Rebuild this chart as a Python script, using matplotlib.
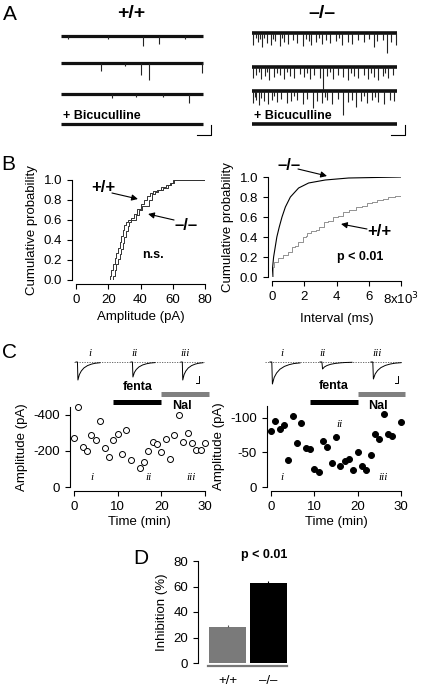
import numpy as np
import matplotlib
matplotlib.use('Agg')
import matplotlib.pyplot as plt

plt.rcParams['font.family'] = ['Liberation Sans', 'DejaVu Sans']
plt.rcParams['axes.unicode_minus'] = False
plt.rcParams['font.size'] = 9.5
plt.rcParams['axes.linewidth'] = 0.8
plt.rcParams['xtick.major.width'] = 0.8
plt.rcParams['ytick.major.width'] = 0.8
plt.rcParams['xtick.major.size'] = 3.5
plt.rcParams['ytick.major.size'] = 3.5

# ---------------- data ----------------
# A: sIPSC events per sweep (position as fraction of sweep, amplitude in px of trace)
wt_events = [
    [(0.05, 3), (0.33, 3), (0.58, 10), (0.69, 8), (0.87, 3)],
    [(0.28, 8), (0.45, 3), (0.56, 12), (0.62, 17), (0.99, 10)],
    [(0.36, 4), (0.53, 3), (0.72, 3), (0.90, 9)],
    [],
]
ko_events = [
    [(0.01, 12), (0.025, 5), (0.04, 9), (0.055, 6), (0.07, 14), (0.085, 5), (0.10, 10), (0.13, 12),
     (0.145, 6), (0.16, 8), (0.19, 13), (0.205, 5), (0.22, 9), (0.25, 11), (0.28, 7), (0.31, 10),
     (0.35, 13), (0.37, 6), (0.39, 8), (0.41, 12), (0.44, 9), (0.46, 5), (0.48, 11), (0.51, 7),
     (0.54, 10), (0.58, 8), (0.60, 5), (0.62, 12), (0.66, 9), (0.69, 11), (0.73, 7), (0.77, 9),
     (0.81, 6), (0.84, 14), (0.86, 8), (0.90, 7), (0.93, 20), (0.96, 9), (0.99, 12)],
    [(0.01, 11), (0.03, 8), (0.045, 5), (0.06, 12), (0.09, 9), (0.105, 5), (0.12, 13), (0.15, 10),
     (0.17, 6), (0.19, 8), (0.22, 12), (0.24, 5), (0.26, 9), (0.29, 11), (0.33, 7), (0.36, 10),
     (0.38, 6), (0.40, 12), (0.43, 8), (0.47, 11), (0.49, 22), (0.52, 9), (0.54, 5), (0.56, 12),
     (0.59, 8), (0.63, 10), (0.66, 13), (0.68, 6), (0.70, 9), (0.73, 11), (0.77, 8), (0.80, 12),
     (0.82, 6), (0.84, 10), (0.87, 13), (0.90, 9), (0.92, 6), (0.94, 11), (0.97, 8)],
    [(0.01, 12), (0.02, 6), (0.03, 9), (0.05, 14), (0.065, 7), (0.08, 10), (0.11, 13), (0.14, 9),
     (0.155, 5), (0.17, 11), (0.20, 8), (0.24, 12), (0.27, 10), (0.29, 5), (0.31, 9), (0.35, 13),
     (0.38, 8), (0.42, 17), (0.45, 10), (0.48, 12), (0.50, 6), (0.52, 9), (0.55, 13), (0.59, 8),
     (0.63, 24), (0.66, 11), (0.69, 9), (0.72, 16), (0.75, 10), (0.77, 5), (0.79, 12), (0.83, 9),
     (0.85, 6), (0.87, 11), (0.91, 13), (0.95, 9), (0.98, 10)],
    [],
]

# B: cumulative distributions
amp_wt_x = [19, 21, 22, 23, 24, 25, 26, 27, 28, 29, 30, 31, 32, 34, 36, 38, 40, 42, 44, 46, 48, 50, 53, 56, 58, 60, 80]
amp_wt_y = [0, 0.04, 0.1, 0.16, 0.22, 0.27, 0.32, 0.38, 0.44, 0.5, 0.55, 0.58, 0.6, 0.62, 0.66, 0.71, 0.76, 0.8,
            0.84, 0.87, 0.89, 0.9, 0.93, 0.95, 0.97, 1.0, 1.0]
amp_ko_x = [21.5, 23, 24, 25, 26, 27, 28, 29, 30, 31, 32, 33, 34, 35, 37, 39, 41, 43, 45, 47, 49, 51, 54, 57, 59, 61, 80]
amp_ko_y = [0, 0.04, 0.1, 0.16, 0.21, 0.26, 0.31, 0.37, 0.43, 0.49, 0.54, 0.58, 0.6, 0.6, 0.65, 0.7, 0.74, 0.74,
            0.8, 0.86, 0.88, 0.9, 0.92, 0.95, 0.97, 1.0, 1.0]
int_ko_x = [0, 40, 100, 200, 300, 450, 620, 830, 1140, 1650, 2270, 3300, 4750, 8000]
int_ko_y = [0, 0.1, 0.2, 0.3, 0.4, 0.5, 0.6, 0.7, 0.8, 0.89, 0.94, 0.97, 0.99, 1.0]
int_wt_x = [0, 40, 150, 400, 700, 1000, 1240, 1450, 1600, 1900, 2100, 2200, 2400, 2700, 2900, 3200, 3500, 3800,
            4100, 4400, 4800, 5200, 5600, 5900, 6200, 6500, 6900, 7200, 7600, 8000]
int_wt_y = [0, 0.1, 0.15, 0.19, 0.22, 0.25, 0.3, 0.31, 0.35, 0.4, 0.41, 0.44, 0.46, 0.47, 0.5, 0.55, 0.56, 0.6,
            0.61, 0.65, 0.67, 0.7, 0.71, 0.74, 0.75, 0.77, 0.78, 0.8, 0.81, 0.83]

# C: time courses
t_wt = [0, 1, 2, 3, 4, 5, 6, 7, 8, 9, 10, 11, 12, 13, 15, 16, 17, 18, 19, 20, 21, 22, 23, 24, 25, 26, 27, 28, 29, 30]
amp_wt = [-274, -445, -223, -202, -288, -259, -369, -214, -169, -259, -292, -184, -317, -148, -103, -137, -198,
          -250, -238, -195, -268, -155, -286, -400, -247, -297, -245, -207, -205, -245]
t_ko = [0, 1, 2, 3, 4, 5, 6, 7, 8, 9, 10, 11, 12, 13, 14, 15, 16, 17, 18, 19, 20, 21, 22, 23, 24, 25, 26, 27, 28, 30]
amp_ko = [-81, -95, -84, -89, -39, -102, -64, -93, -56, -55, -26, -22, -67, -58, -35, -72, -31, -37, -40, -24,
          -50, -31, -24, -46, -76, -69, -106, -76, -73, -94]
# averaged IPSC insets (relative peaks for i, ii, iii)
inset_wave_t = [0, 0.06, 0.08, 0.14, 0.22, 0.33, 0.48, 0.64, 0.8, 1.0]
inset_wave_v = [0, 0, -1, -0.7, -0.5, -0.33, -0.2, -0.12, -0.07, -0.04]
inset_peak_wt = [18, 15, 18]
inset_peak_ko = [22, 7, 17]

# D: inhibition
genotypes = ['+/+', '–/–']
inhibition = [28, 63]
inhibition_err = [2, 1.5]

W, H = 422, 687
fig = plt.figure(figsize=(W / 100, H / 100), dpi=100)


def px_axes(l, t, r, b):
    return fig.add_axes([l / W, 1 - b / H, (r - l) / W, (b - t) / H])


def style(ax, off=3):
    for s in ['top', 'right']:
        ax.spines[s].set_visible(False)
    ax.spines['left'].set_position(('outward', off))
    ax.spines['bottom'].set_position(('outward', off))


# ---------------- A ----------------
axA = px_axes(0, 0, W, 140)
axA.set_xlim(0, W)
axA.set_ylim(140, 0)
axA.axis('off')
axA.text(3, 14, 'A', fontsize=15, va='center')
axA.text(131, 14, '+/+', fontsize=14, fontweight='bold', ha='center', va='center')
axA.text(322, 14, '–/–', fontsize=14, fontweight='bold', ha='center', va='center')
for (x0, x1, rows, events, lw) in [(61, 203, [36, 63, 94, 124], wt_events, 2.3),
                                   (252, 397, [33, 67, 91, 124], ko_events, 2.6)]:
    for y0, ev in zip(rows, events):
        axA.plot([x0, x1], [y0, y0], color='#111111', lw=lw, solid_capstyle='butt')
        if ev:
            xs = [x0 + f * (x1 - x0) for f, a in ev]
            axA.vlines(xs, y0, [y0 + a for f, a in ev], color='#222222', lw=0.8)
    axA.text(x0 + 2, 116, '+ Bicuculline', fontsize=9, fontweight='bold', va='center')
    axA.plot([x1 - 6, x1 + 8, x1 + 8], [135, 135, 125], color='k', lw=0.8)

# ---------------- B ----------------
axB1 = px_axes(76, 180, 205, 280)
style(axB1)
axB1.plot(amp_wt_x, amp_wt_y, drawstyle='steps-post', color='#333333', lw=0.7)
axB1.plot(amp_ko_x, amp_ko_y, drawstyle='steps-post', color='#333333', lw=0.7)
axB1.set_xlim(0, 80)
axB1.set_ylim(0, 1.0)
axB1.set_xticks([0, 20, 40, 60, 80])
axB1.set_yticks([0, 0.2, 0.4, 0.6, 0.8, 1.0])
axB1.set_yticklabels(['0.0', '0.2', '0.4', '0.6', '0.8', '1.0'])
axB1.set_xlabel('Amplitude (pA)')
axB1.set_ylabel('Cumulative probability')
arrow = dict(arrowstyle='-|>', color='k', lw=0.8, mutation_scale=9, shrinkA=0, shrinkB=0)
axB1.text(16.7, 0.92, '+/+', fontsize=12, fontweight='bold', ha='center', va='center')
axB1.annotate('', xy=(38.4, 0.81), xytext=(22.3, 0.87), arrowprops=arrow)
axB1.text(68.2, 0.54, '–/–', fontsize=12, fontweight='bold', ha='center', va='center')
axB1.annotate('', xy=(44.7, 0.66), xytext=(60.8, 0.60), arrowprops=arrow)
axB1.text(47.8, 0.25, 'n.s.', fontsize=9, fontweight='bold', ha='center', va='center')
fig.text(1 / W, 1 - 164 / H, 'B', fontsize=15, va='center')

axB2 = px_axes(272, 177, 401, 277)
style(axB2)
axB2.plot(int_ko_x, int_ko_y, color='k', lw=0.8)
axB2.plot(int_wt_x, int_wt_y, drawstyle='steps-post', color='#808080', lw=0.6)
axB2.set_xlim(0, 8000)
axB2.set_ylim(0, 1.0)
axB2.set_xticks([0, 2000, 4000, 6000, 8000])
axB2.set_xticklabels(['0', '2', '4', '6', '8x10$^3$'])
axB2.set_yticks([0, 0.2, 0.4, 0.6, 0.8, 1.0])
axB2.set_yticklabels(['0.0', '0.2', '0.4', '0.6', '0.8', '1.0'])
axB2.set_xlabel('Interval (ms)')
axB2.set_ylabel('Cumulative probability')
axB2.text(1054, 1.12, '–/–', fontsize=12, fontweight='bold', ha='center', va='center')
axB2.annotate('', xy=(3411, 1.01), xytext=(1612, 1.08), arrowprops=arrow, annotation_clip=False)
axB2.text(6636, 0.45, '+/+', fontsize=12, fontweight='bold', ha='center', va='center')
axB2.annotate('', xy=(4279, 0.53), xytext=(5891, 0.48), arrowprops=arrow)
axB2.text(5457, 0.20, 'p < 0.01', fontsize=9, fontweight='bold', ha='center', va='center')

# ---------------- C ----------------
fig.text(2 / W, 1 - 352 / H, 'C', fontsize=15, va='center')


def time_course(ax, t, amp, ymax, yticks, filled, bars_y, text_y, lab_pos):
    style(ax, off=3)
    ax.plot(t, amp, 'o', ms=4.3, mec='k', mew=0.7, mfc='k' if filled else 'white', clip_on=False)
    ax.axhline(0, color='k', lw=0.6, ls=(0, (1.5, 1.5)))
    ax.set_xlim(0, 30)
    ax.set_ylim(0, ymax)
    ax.set_xticks([0, 10, 20, 30])
    ax.set_yticks(yticks)
    ax.set_yticklabels([str(v) for v in yticks])
    ax.set_xlabel('Time (min)', labelpad=2)
    ax.set_ylabel('Amplitude (pA)')
    ax.plot([9, 20], [bars_y[0]] * 2, color='k', lw=3.6, solid_capstyle='butt', clip_on=False)
    ax.plot([20, 31], [bars_y[1]] * 2, color='#808080', lw=3.6, solid_capstyle='butt', clip_on=False)
    ax.text(14.5, text_y[0], 'fenta', fontsize=9, fontweight='bold', ha='center', va='bottom')
    ax.text(24.7, text_y[1], 'Nal', fontsize=9, fontweight='bold', ha='center', va='center')
    for s, (x, y) in zip(['i', 'ii', 'iii'], lab_pos):
        ax.text(x, y, s, family='Liberation Serif', style='italic', fontsize=8, ha='center', va='center')


axC1 = px_axes(74, 407, 205, 487)
time_course(axC1, t_wt, amp_wt, -444, [0, -200, -400], False, (-472, -517), (-524, -450),
            [(4.2, -54), (17.1, -54), (26.7, -54)])
axC2 = px_axes(271, 406, 401, 487)
time_course(axC2, t_ko, amp_ko, -117, [0, -50, -100], True, (-123, -135), (-137, -117),
            [(2.5, -14), (15.8, -90), (25.8, -14)])


def insets(l, r, starts, widths, peaks, labx, bar_x):
    ax = px_axes(l, 345, r, 392)
    ax.set_xlim(l, r)
    ax.set_ylim(392, 345)
    ax.axis('off')
    ax.plot([l, r], [362, 362], color='#555555', lw=0.6, ls=(0, (1.5, 1.5)))
    for x0, w, pk, lx, lab in zip(starts, widths, peaks, labx, ['i', 'ii', 'iii']):
        ax.plot([x0 + w * tt for tt in inset_wave_t], [362 - pk * v for v in inset_wave_v], color='k', lw=0.7)
        ax.text(lx, 354, lab, family='Liberation Serif', style='italic', fontsize=8, ha='center', va='center')
    ax.plot([bar_x - 3, bar_x, bar_x], [383, 383, 376], color='k', lw=0.7)


insets(74, 205, [76, 131, 181], [24, 24, 22], inset_peak_wt, [90, 135, 185], 199)
insets(265, 402, [270, 320, 371], [30, 32, 30], inset_peak_ko, [282, 323, 377], 398)

# ---------------- D ----------------
fig.text(133 / W, 1 - 558 / H, 'D', fontsize=15, va='center')
axD = px_axes(198, 561, 290, 663)
for s in ['top', 'right']:
    axD.spines[s].set_visible(False)
axD.bar([0, 1], inhibition, width=0.91, color=['#7a7a7a', 'k'],
        yerr=[[0, 0], inhibition_err], ecolor=['#555555', 'k'], error_kw=dict(lw=0.8, capsize=0))
axD.set_xlim(-0.73, 1.54)
axD.set_ylim(0, 80)
axD.set_yticks([0, 20, 40, 60, 80])
axD.set_xticks([0, 1])
axD.set_xticklabels(genotypes, fontweight='bold', fontsize=9.5)
axD.tick_params(axis='x', length=0, pad=7)
axD.spines['bottom'].set_position(('outward', 2))
axD.spines['bottom'].set_bounds(-0.48, 1.47)
axD.spines['bottom'].set_color('#777777')
axD.spines['bottom'].set_linewidth(1.6)
axD.set_ylabel('Inhibition (%)')
axD.text(0.9, 84.7, 'p < 0.01', fontsize=9, fontweight='bold', ha='center', va='center', clip_on=False)

fig.savefig('out.png', dpi=100)
